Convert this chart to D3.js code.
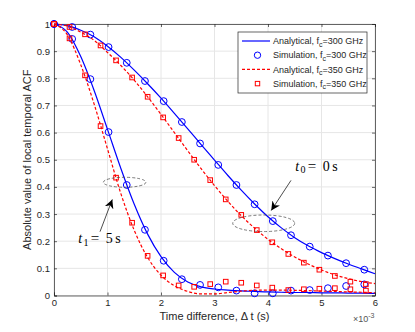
<!DOCTYPE html>
<html>
<head>
<meta charset="utf-8">
<script src="https://cdn.jsdelivr.net/npm/d3@7"></script>
<style>
  body { margin: 0; background: #fff; }
  svg { display: block; }
</style>
</head>
<body>
<svg id="chart"></svg>
<script>
// time axis in units of 1e-3 s
const tGrid = [0, 0.25, 0.5, 0.75, 1.0, 1.25, 1.5, 1.75, 2.0, 2.25, 2.5, 2.75, 3.0,
               3.25, 3.5, 3.75, 4.0, 4.25, 4.5, 4.75, 5.0, 5.25, 5.5, 5.75, 6.0];

// analytical curves
const ana300_t0 = [1, 0.994, 0.977, 0.953, 0.918, 0.877, 0.830, 0.780, 0.727, 0.671, 0.614, 0.556, 0.499,
                   0.442, 0.388, 0.337, 0.290, 0.249, 0.213, 0.183, 0.158, 0.136, 0.116, 0.098, 0.080];
const ana300_t1 = [1, 0.970, 0.880, 0.755, 0.612, 0.468, 0.336, 0.226, 0.143, 0.085, 0.050, 0.032, 0.024,
                   0.020, 0.017, 0.015, 0.013, 0.012, 0.011, 0.011, 0.010, 0.010, 0.009, 0.009, 0.008];
const ana350_t0 = [1, 0.992, 0.970, 0.940, 0.895, 0.847, 0.793, 0.732, 0.667, 0.600, 0.533, 0.467, 0.405,
                   0.347, 0.294, 0.248, 0.207, 0.172, 0.142, 0.116, 0.094, 0.076, 0.062, 0.051, 0.044];
const ana350_t1 = [1, 0.960, 0.850, 0.705, 0.540, 0.375, 0.240, 0.140, 0.075, 0.036, 0.015, 0.006, 0.006,
                   0.011, 0.016, 0.019, 0.020, 0.020, 0.019, 0.018, 0.016, 0.015, 0.013, 0.012, 0.010];

// simulation points
const sim300_t = [0, 0.34, 0.68, 1.02, 1.36, 1.70, 2.05, 2.39, 2.73, 3.07, 3.41, 3.75, 4.09, 4.43, 4.78, 5.12, 5.46, 5.80];
const sim300_t0 = [1, 0.989, 0.961, 0.915, 0.857, 0.790, 0.716, 0.639, 0.560, 0.481, 0.407, 0.336, 0.274, 0.222, 0.180, 0.147, 0.119, 0.095];
const sim300_t1 = [1, 0.945, 0.797, 0.602, 0.407, 0.242, 0.128, 0.060, 0.039, 0.030, 0.018, 0.008, 0.008, 0.018, 0.020, 0.027, 0.035, 0.041];

const sim350_t = [0, 0.29, 0.58, 0.87, 1.16, 1.46, 1.75, 2.04, 2.33, 2.62, 2.92, 3.21, 3.50, 3.79, 4.08, 4.38, 4.67, 4.96, 5.25, 5.54, 5.83];
const sim350_t0 = [1, 0.989, 0.962, 0.921, 0.866, 0.803, 0.732, 0.656, 0.580, 0.500, 0.425, 0.354, 0.297, 0.241, 0.196, 0.153, 0.121, 0.095, 0.072, 0.051, 0.042];
const sim350_t1 = [1, 0.947, 0.811, 0.624, 0.434, 0.268, 0.146, 0.074, 0.037, 0.032, 0.042, 0.051, 0.047, 0.037, 0.029, 0.020, 0.023, 0.025, 0.027, 0.023, 0.018];

const xTicks = [0, 1, 2, 3, 4, 5, 6];
const yTicks = [0, 0.1, 0.2, 0.3, 0.4, 0.5, 0.6, 0.7, 0.8, 0.9, 1];

const legendItems = [
  { kind: 'line', color: '#0000ff', dash: null, label: 'Analytical, f', rest: '=300 GHz' },
  { kind: 'circle', color: '#0000ff', label: 'Simulation, f', rest: '=300 GHz' },
  { kind: 'line', color: '#ff0000', dash: '3,2', label: 'Analytical, f', rest: '=350 GHz' },
  { kind: 'square', color: '#ff0000', label: 'Simulation, f', rest: '=350 GHz' }
];

const W = 415, H = 332;
const margin = { top: 24, right: 40, bottom: 36.5, left: 54 };
const iw = W - margin.left - margin.right;
const ih = H - margin.top - margin.bottom;
const axisColor = '#262626';
const font = '"Liberation Sans", Arial, sans-serif';
const serif = '"Liberation Serif", "DejaVu Serif", serif';

const svg = d3.select('#chart').attr('width', W).attr('height', H);
const g = svg.append('g').attr('transform', `translate(${margin.left},${margin.top})`);

const x = d3.scaleLinear().domain([0, 6]).range([0, iw]);
const y = d3.scaleLinear().domain([0, 1]).range([ih, 0]);

// grid
g.append('g').selectAll('line').data(xTicks).enter().append('line')
  .attr('x1', d => x(d)).attr('x2', d => x(d)).attr('y1', 0).attr('y2', ih)
  .attr('stroke', '#e6e6e6').attr('stroke-width', 1);
g.append('g').selectAll('line').data(yTicks).enter().append('line')
  .attr('y1', d => y(d)).attr('y2', d => y(d)).attr('x1', 0).attr('x2', iw)
  .attr('stroke', '#e6e6e6').attr('stroke-width', 1);

// axes (MATLAB style: inward ticks, box)
const xAxis = g.append('g').attr('transform', `translate(0,${ih})`)
  .call(d3.axisBottom(x).tickValues(xTicks).tickSize(-3).tickPadding(4).tickFormat(d3.format('d')));
const xAxisTop = g.append('g')
  .call(d3.axisTop(x).tickValues(xTicks).tickSize(-3).tickFormat(''));
const yAxis = g.append('g')
  .call(d3.axisLeft(y).tickValues(yTicks).tickSize(-3).tickPadding(4)
    .tickFormat(d => d === 0 || d === 1 ? d3.format('d')(d) : d3.format('.1f')(d)));
const yAxisRight = g.append('g').attr('transform', `translate(${iw},0)`)
  .call(d3.axisRight(y).tickValues(yTicks).tickSize(-3).tickFormat(''));

[xAxis, xAxisTop, yAxis, yAxisRight].forEach(a => {
  a.selectAll('path, line').attr('stroke', axisColor).attr('stroke-width', 0.7);
  a.selectAll('text').attr('fill', axisColor).style('font-family', font).style('font-size', '9.5px');
});

// lines
const line = d3.line().x((d, i) => x(tGrid[i])).y(d => y(d)).curve(d3.curveMonotoneX);
const plot = g.append('g');

plot.append('path').datum(ana300_t0).attr('d', line)
  .attr('fill', 'none').attr('stroke', '#0000ff').attr('stroke-width', 1.2);
plot.append('path').datum(ana300_t1).attr('d', line)
  .attr('fill', 'none').attr('stroke', '#0000ff').attr('stroke-width', 1.2);

[sim300_t0, sim300_t1].forEach(arr => {
  plot.append('g').selectAll('circle').data(arr).enter().append('circle')
    .attr('cx', (d, i) => x(sim300_t[i])).attr('cy', d => y(d)).attr('r', 3.4)
    .attr('fill', 'none').attr('stroke', '#0000ff').attr('stroke-width', 1);
});

plot.append('path').datum(ana350_t0).attr('d', line)
  .attr('fill', 'none').attr('stroke', '#ff0000').attr('stroke-width', 1.2).attr('stroke-dasharray', '3,2');
plot.append('path').datum(ana350_t1).attr('d', line)
  .attr('fill', 'none').attr('stroke', '#ff0000').attr('stroke-width', 1.2).attr('stroke-dasharray', '3,2');

const sq = 4.6;
[sim350_t0, sim350_t1].forEach(arr => {
  plot.append('g').selectAll('rect').data(arr).enter().append('rect')
    .attr('x', (d, i) => x(sim350_t[i]) - sq / 2).attr('y', d => y(d) - sq / 2)
    .attr('width', sq).attr('height', sq)
    .attr('fill', 'none').attr('stroke', '#ff0000').attr('stroke-width', 1);
});

// annotations
const defs = svg.append('defs');
defs.append('marker').attr('id', 'arrow').attr('viewBox', '0 0 10 10')
  .attr('refX', 10).attr('refY', 5).attr('markerWidth', 9).attr('markerHeight', 9)
  .attr('markerUnits', 'userSpaceOnUse').attr('orient', 'auto')
  .append('path').attr('d', 'M0,0 L10,5 L0,10 L3,5 Z').attr('fill', '#000');

function ellipse(cx, cy, rx, ry) {
  g.append('ellipse').attr('cx', x(cx)).attr('cy', y(cy)).attr('rx', rx).attr('ry', ry)
    .attr('fill', 'none').attr('stroke', '#444').attr('stroke-width', 0.7).attr('stroke-dasharray', '3,2');
}
ellipse(3.92, 0.266, 31, 8.3);
ellipse(1.32, 0.417, 21.3, 5);

function arrow(x1, y1, x2, y2) {
  g.append('line').attr('x1', x(x1)).attr('y1', y(y1)).attr('x2', x(x2)).attr('y2', y(y2))
    .attr('stroke', '#000').attr('stroke-width', 0.7).attr('marker-end', 'url(#arrow)');
}
arrow(4.43, 0.424, 4.06, 0.313);
arrow(0.86, 0.235, 1.09, 0.354);

// LaTeX-like label: t_k = v s
function mathLabel(px, py, sub, val) {
  const x0 = x(px), y0 = y(py);
  const lab = g.append('g').attr('transform', `translate(${x0},${y0})`)
    .style('font-family', serif).attr('fill', '#000');
  lab.append('text').attr('x', 0).style('font-size', '14px').style('font-style', 'italic').text('t');
  lab.append('text').attr('x', 5.2).attr('y', 2.5).style('font-size', '10px').text(sub);
  lab.append('text').attr('x', 12.5).style('font-size', '15px').text('=');
  lab.append('text').attr('x', 27.5).style('font-size', '14px').text(val);
  lab.append('text').attr('x', 37).style('font-size', '14px').text('s');
}
mathLabel(4.51, 0.459, '0', '0');
mathLabel(0.455, 0.192, '1', '5');

// axis labels
svg.append('text').attr('x', margin.left + iw / 2).attr('y', 320).attr('text-anchor', 'middle')
  .style('font-family', font).style('font-size', '11px').attr('fill', axisColor)
  .text('Time difference, \u0394 t (s)');
const ex = svg.append('text').attr('x', 353).attr('y', 322)
  .style('font-family', font).style('font-size', '9px').attr('fill', '#555');
ex.append('tspan').text('\u00d710');
ex.append('tspan').attr('dy', -4).style('font-size', '7px').text('-3');

svg.append('text').attr('transform', `translate(31,${margin.top + ih / 2}) rotate(-90)`)
  .attr('text-anchor', 'middle').style('font-family', font).style('font-size', '11px').attr('fill', axisColor)
  .text('Absolute value of local temporal ACF');

// legend
const lg = svg.append('g').attr('transform', 'translate(238,32)');
lg.append('rect').attr('width', 129).attr('height', 61).attr('fill', '#fff')
  .attr('stroke', axisColor).attr('stroke-width', 0.7);
legendItems.forEach((it, i) => {
  const row = lg.append('g').attr('transform', `translate(0,${9 + i * 14.2})`);
  if (it.kind === 'line') {
    row.append('line').attr('x1', 4).attr('x2', 32).attr('y1', 0).attr('y2', 0)
      .attr('stroke', it.color).attr('stroke-width', 1.2).attr('stroke-dasharray', it.dash);
  } else if (it.kind === 'circle') {
    row.append('circle').attr('cx', 19.5).attr('cy', 0).attr('r', 3.2)
      .attr('fill', 'none').attr('stroke', it.color).attr('stroke-width', 1);
  } else {
    row.append('rect').attr('x', 19.5 - 2.2).attr('y', -2.2).attr('width', 4.4).attr('height', 4.4)
      .attr('fill', 'none').attr('stroke', it.color).attr('stroke-width', 1);
  }
  const t = row.append('text').attr('x', 35).attr('y', 3.2)
    .style('font-family', font).style('font-size', '9px').attr('fill', axisColor);
  t.append('tspan').text(it.label);
  t.append('tspan').attr('dy', 2.5).style('font-size', '7px').text('c');
  t.append('tspan').attr('dy', -2.5).text(it.rest);
});
</script>
</body>
</html>
